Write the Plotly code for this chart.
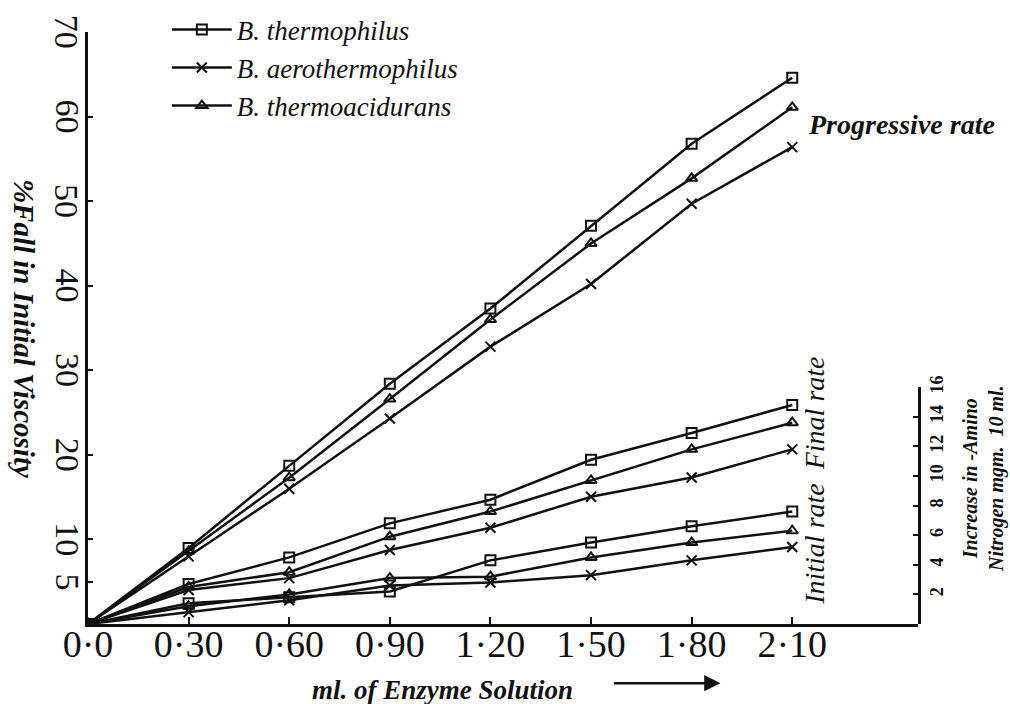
import plotly.graph_objects as go

# ---------------- data ----------------
enzyme_ml = [0.0, 0.30, 0.60, 0.90, 1.20, 1.50, 1.80, 2.10]
x_tick_vals = [0.0, 0.30, 0.60, 0.90, 1.20, 1.50, 1.80, 2.10]
x_tick_text = ["0·0", "0·30", "0·60", "0·90", "1·20", "1·50", "1·80", "2·10"]
left_tick_vals = [5, 10, 20, 30, 40, 50, 60, 70]
left_tick_text = ["5", "10", "20", "30", "40", "50", "60", "70"]
right_tick_vals = [2, 4, 6, 8, 10, 12, 14, 16]

species = ["B. thermophilus", "B. aerothermophilus", "B. thermoacidurans"]
symbols = ["square-open", "x-thin-open", "triangle-up-open"]

# Progressive rate: % fall in initial viscosity (left axis)
prog_thermophilus = [0, 9.0, 18.7, 28.4, 37.3, 47.1, 56.8, 64.6]
prog_aerothermophilus = [0, 8.0, 16.0, 24.3, 32.8, 40.2, 49.7, 56.4]
prog_thermoacidurans = [0, 8.6, 17.3, 26.6, 36.0, 45.0, 52.7, 61.1]

# Final rate: increase in amino nitrogen, mgm. per 10 ml. (right axis)
final_thermophilus = [0, 2.7, 4.5, 6.8, 8.4, 11.1, 12.9, 14.8]
final_aerothermophilus = [0, 2.3, 3.1, 5.0, 6.5, 8.6, 9.9, 11.8]
final_thermoacidurans = [0, 2.5, 3.5, 5.9, 7.6, 9.7, 11.8, 13.6]

# Initial rate: increase in amino nitrogen (right axis)
init_thermophilus = [0, 1.4, 1.8, 2.2, 4.3, 5.5, 6.6, 7.6]
init_aerothermophilus = [0, 0.8, 1.6, 2.6, 2.8, 3.3, 4.3, 5.2]
init_thermoacidurans = [0, 1.2, 2.0, 3.1, 3.2, 4.5, 5.5, 6.3]

prog = [prog_thermophilus, prog_aerothermophilus, prog_thermoacidurans]
final = [final_thermophilus, final_aerothermophilus, final_thermoacidurans]
init = [init_thermophilus, init_aerothermophilus, init_thermoacidurans]

SERIF = "Liberation Serif"
BLACK = "#111111"

fig = go.Figure()

for i, name in enumerate(species):
    mk = dict(symbol=symbols[i], size=10, color=BLACK, line=dict(color=BLACK, width=2))
    ln = dict(color=BLACK, width=2.5)
    fig.add_trace(go.Scatter(x=enzyme_ml, y=prog[i], mode="lines+markers", name=name,
                             legendgroup=name, marker=mk, line=ln, yaxis="y"))
    fig.add_trace(go.Scatter(x=enzyme_ml, y=final[i], mode="lines+markers", name=name,
                             legendgroup=name, showlegend=False, marker=mk, line=ln, yaxis="y2"))
    fig.add_trace(go.Scatter(x=enzyme_ml, y=init[i], mode="lines+markers", name=name,
                             legendgroup=name, showlegend=False, marker=mk, line=ln, yaxis="y2"))

fig.update_layout(
    width=1010, height=704,
    margin=dict(l=88, r=92, t=32, b=80, autoexpand=False),
    paper_bgcolor="white", plot_bgcolor="rgba(0,0,0,0)",
    font=dict(family=SERIF, color=BLACK),
    showlegend=True,
    legend=dict(x=0.095, y=1.045, xanchor="left", yanchor="top",
                bgcolor="rgba(0,0,0,0)", itemwidth=60, tracegroupgap=0,
                font=dict(family=SERIF, size=27, style="italic", color=BLACK)),
    xaxis=dict(range=[0, 2.475], tickvals=x_tick_vals, ticktext=x_tick_text,
               automargin=False,
               showgrid=False, zeroline=False, showline=True, linecolor=BLACK, linewidth=3,
               ticks="inside", ticklen=7, tickwidth=2, tickcolor=BLACK,
               ticklabelstandoff=-16,
               tickfont=dict(family=SERIF, size=38, color=BLACK), anchor="y"),
    yaxis=dict(range=[0, 70.01], tickvals=left_tick_vals, showticklabels=False,
               automargin=False,
               showgrid=False, zeroline=False, showline=True, linecolor=BLACK, linewidth=3,
               ticks="inside", ticklen=5, tickwidth=2, tickcolor=BLACK, anchor="x"),
    yaxis2=dict(range=[0, 16], domain=[0, 0.4], tickvals=right_tick_vals, side="right",
                automargin=False,
                anchor="x", showgrid=False, zeroline=False, showline=True, linecolor=BLACK,
                linewidth=3, ticks="inside", ticklen=5, tickwidth=2, tickcolor=BLACK,
                tickangle=-90,
                tickfont=dict(family=SERIF, size=18, weight="bold", color=BLACK)),
)

# left-axis tick labels, rotated clockwise and centred on their ticks
for v, t in zip(left_tick_vals, left_tick_text):
    fig.add_annotation(text=t, textangle=90, xref="paper", yref="y", x=-0.025, y=v,
                       xanchor="center", yanchor="middle", showarrow=False,
                       font=dict(family=SERIF, size=34, color=BLACK))

fig.add_annotation(text="%Fall in Initial Viscosity", textangle=90, xref="paper", yref="paper",
                   x=-0.077, y=0.50, xanchor="center", yanchor="middle", showarrow=False,
                   font=dict(family=SERIF, size=29, style="italic", weight="bold", color=BLACK))
fig.add_annotation(text="ml. of Enzyme Solution", xref="paper", yref="paper",
                   x=0.427, y=-0.111, xanchor="center", yanchor="middle",
                   showarrow=False,
                   font=dict(family=SERIF, size=27, style="italic", weight="bold", color=BLACK))
fig.add_annotation(text="", xref="paper", yref="paper", x=0.762, y=-0.1,
                   ax=-108, ay=0, showarrow=True, arrowhead=2, arrowsize=1.3,
                   arrowwidth=2.5, arrowcolor=BLACK)
fig.add_annotation(text="Progressive rate", xref="paper", yref="paper", x=0.865, y=0.843,
                   xanchor="left", yanchor="middle", showarrow=False,
                   font=dict(family=SERIF, size=28, style="italic", weight="bold", color=BLACK))
fig.add_annotation(text="Initial rate  Final rate", textangle=-90, xref="paper", yref="paper",
                   x=0.876, y=0.242, xanchor="center", yanchor="middle", showarrow=False,
                   font=dict(family=SERIF, size=28, style="italic", color=BLACK))
fig.add_annotation(text="Increase in -Amino<br>Nitrogen mgm.  10 ml.", textangle=-90,
                   xref="paper", yref="paper", x=1.0 + 66 / 830, y=0.245,
                   xanchor="center", yanchor="middle", showarrow=False,
                   font=dict(family=SERIF, size=20, style="italic", weight="bold", color=BLACK))

fig.write_html("out.html", config={"displayModeBar": False},
               post_script="document.body.style.margin='0';document.body.style.overflow='hidden';")
